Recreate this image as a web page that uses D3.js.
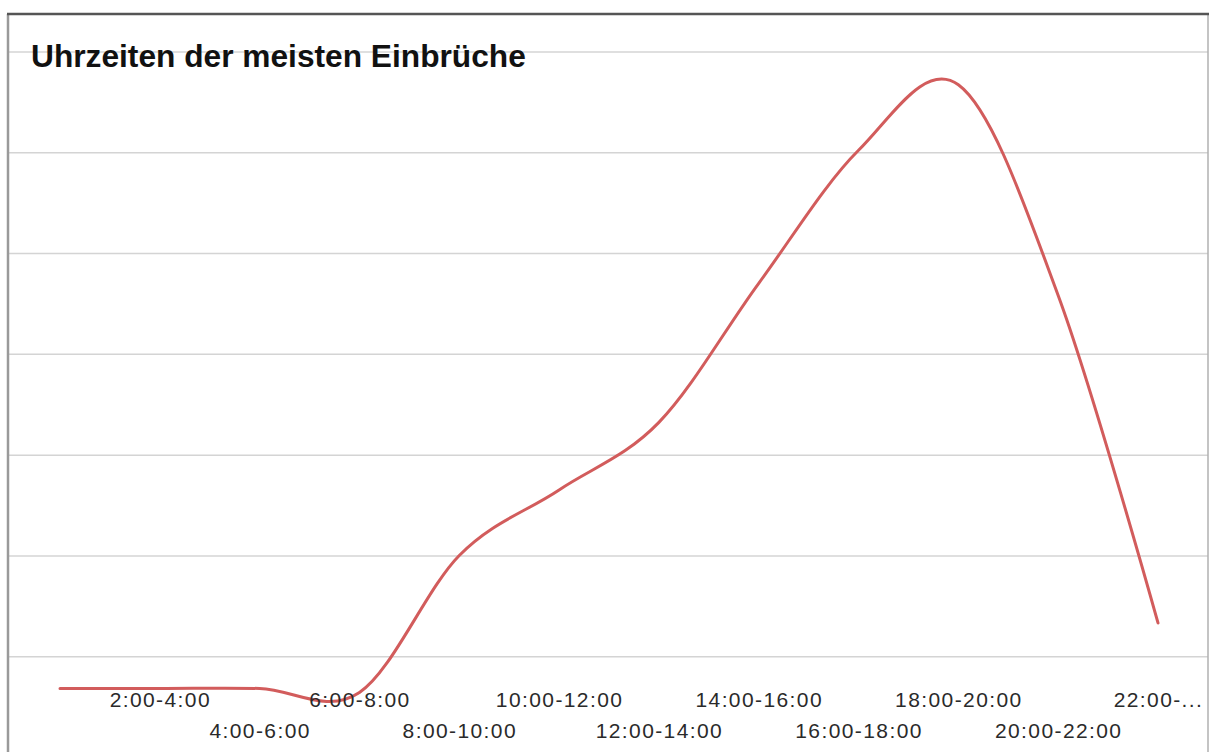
<!DOCTYPE html>
<html>
<head>
<meta charset="utf-8">
<script src="https://cdn.jsdelivr.net/npm/d3@7"></script>
<style>
	body { margin: 0; background: #fff; }
	svg { display: block; font-family: "Liberation Sans", Arial, sans-serif; }
	.grid line { stroke: #d4d4d4; stroke-width: 1.5; }
	.grid path { display: none; }
	.xlabels path { display: none; }
	.xlabels text { font-size: 21px; fill: #2a2a2a; letter-spacing: 1.4px; }
</style>
</head>
<body>
<div id="chart"></div>
<script>
	// Data
	var categories = ["0:00-2:00", "2:00-4:00", "4:00-6:00", "6:00-8:00", "8:00-10:00", "10:00-12:00",
		"12:00-14:00", "14:00-16:00", "16:00-18:00", "18:00-20:00", "20:00-22:00", "22:00-24:00"];
	var tickLabels = ["", "2:00-4:00", "4:00-6:00", "6:00-8:00", "8:00-10:00", "10:00-12:00",
		"12:00-14:00", "14:00-16:00", "16:00-18:00", "18:00-20:00", "20:00-22:00", "22:00-..."];
	var values = [6.8, 6.8, 6.8, 6.4, 20.0, 26.5, 33.2, 47.0, 60.2, 66.7, 45.8, 13.3];
	var yTicks = [0, 10, 20, 30, 40, 50, 60, 70];

	var W = 1211, H = 752;
	var frame = { left: 8, right: 1208, top: 14 };

	var svg = d3.select("#chart")
		.append("svg")
			.attr("width", W)
			.attr("height", H);

	svg.append("rect")
		.attr("width", W).attr("height", H)
		.style("fill", "#fff");

	var x = d3.scalePoint()
		.domain(categories)
		.range([60, 1158]);

	var y = d3.scaleLinear()
		.domain([0, 70])
		.range([757, 51.5]);

	//Horizontal gridlines
	svg.append("g")
		.attr("class", "grid")
		.attr("transform", "translate(" + frame.left + ",0)")
		.call(d3.axisLeft(y)
			.tickValues(yTicks)
			.tickSize(-(frame.right - frame.left))
			.tickFormat(""));

	//Title
	svg.append("text")
		.attr("x", 31)
		.attr("y", 67)
		.style("font-size", "31.7px")
		.style("font-weight", "bold")
		.style("fill", "#111")
		.text("Uhrzeiten der meisten Einbrüche");

	//The line
	var line = d3.line()
		.x(function(d, i) { return x(categories[i]); })
		.y(function(d) { return y(d); })
		.curve(d3.curveCardinal.tension(0));

	svg.append("path")
		.datum(values)
		.attr("d", line)
		.style("fill", "none")
		.style("stroke", "#d25c5c")
		.style("stroke-width", 3)
		.style("stroke-linecap", "round");

	//Category labels in two staggered rows
	var xAxis = svg.append("g")
		.attr("class", "xlabels")
		.attr("transform", "translate(0,707)")
		.call(d3.axisBottom(x)
			.tickSize(0)
			.tickFormat(function(d, i) { return tickLabels[i]; }));

	xAxis.selectAll(".tick text")
		.attr("dy", 0)
		.attr("y", function(d, i) { return (i % 2 === 1) ? 0 : 31; });

	//Frame
	svg.append("line")
		.attr("x1", frame.left).attr("x2", frame.left)
		.attr("y1", frame.top).attr("y2", H)
		.style("stroke", "#9a9a9a").style("stroke-width", 2.5);
	svg.append("line")
		.attr("x1", frame.right).attr("x2", frame.right)
		.attr("y1", frame.top).attr("y2", H)
		.style("stroke", "#b0b0b0").style("stroke-width", 1.5);
	svg.append("line")
		.attr("x1", frame.left - 1).attr("x2", frame.right + 1)
		.attr("y1", frame.top).attr("y2", frame.top)
		.style("stroke", "#555").style("stroke-width", 2.5);
</script>
</body>
</html>
